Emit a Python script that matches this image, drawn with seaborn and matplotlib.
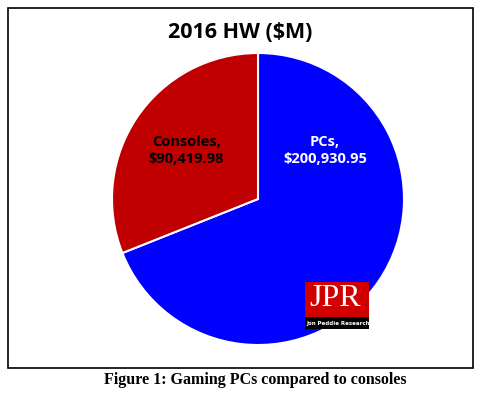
import matplotlib
matplotlib.use("Agg")
import matplotlib.pyplot as plt
from matplotlib.patches import Rectangle
import seaborn as sns

# Data
labels = ["PCs", "Consoles"]
values = [200930.95, 90419.98]
colors = ["#0000FF", "#C00000"]
label_colors = ["white", "black"]
title = "2016 HW ($M)"
caption = "Figure 1: Gaming PCs compared to consoles"

sns.set_style("white")
plt.rcParams["font.family"] = ["Open Sans", "DejaVu Sans"]
plt.rcParams["text.color"] = "black"

fig = plt.figure(figsize=(4.8, 3.96), dpi=100)
W, H = 480, 396

# outer border box
fig.patches.append(Rectangle((7.5 / W, 1 - 367.5 / H), 465 / W, 360 / H,
                             transform=fig.transFigure, fill=False,
                             edgecolor="black", linewidth=1.2))

cx, cy, r = 258, 199, 146
ax = fig.add_axes([(cx - r) / W, 1 - (cy + r) / H, 2 * r / W, 2 * r / H])
ax.pie(values, colors=colors, startangle=90, counterclock=False,
       wedgeprops=dict(edgecolor="white", linewidth=1.5))
ax.set_xlim(-1, 1)
ax.set_ylim(-1, 1)
ax.set_aspect("equal")
ax.axis("off")

# data labels
pos = [(0.46, 0.33), (-0.49, 0.33)]
for lab, v, c, (x, y) in zip(labels, values, label_colors, pos):
    ax.text(x, y, f"{lab},\n${v:,.2f}", ha="center", va="center",
            color=c, fontsize=10.5, fontweight="bold", linespacing=1.3)

fig.text(240 / W, 1 - 33 / H, title, ha="center", va="center",
         fontsize=15.5, fontweight="bold", color="black")

fig.text(255 / W, 1 - 380 / H, caption, ha="center", va="center",
         fontsize=11.5, fontweight="bold", family="Liberation Serif",
         color="black")

# JPR logo
fig.patches.append(Rectangle((305 / W, 1 - 317 / H), 64 / W, 35 / H,
                             transform=fig.transFigure, facecolor="#D00000",
                             edgecolor="none"))
fig.patches.append(Rectangle((305 / W, 1 - 329 / H), 64 / W, 12 / H,
                             transform=fig.transFigure, facecolor="black",
                             edgecolor="none"))
fig.text(335 / W, 1 - 299 / H, "JPR", ha="center", va="center", color="white",
         fontsize=23, family="Liberation Serif")
fig.text(338 / W, 1 - 323.5 / H, "Jon Peddie Research", ha="center",
         va="center", color="white", fontsize=4.0,
         family="Liberation Sans Narrow", fontweight="bold")

fig.savefig("out.png", dpi=100)
